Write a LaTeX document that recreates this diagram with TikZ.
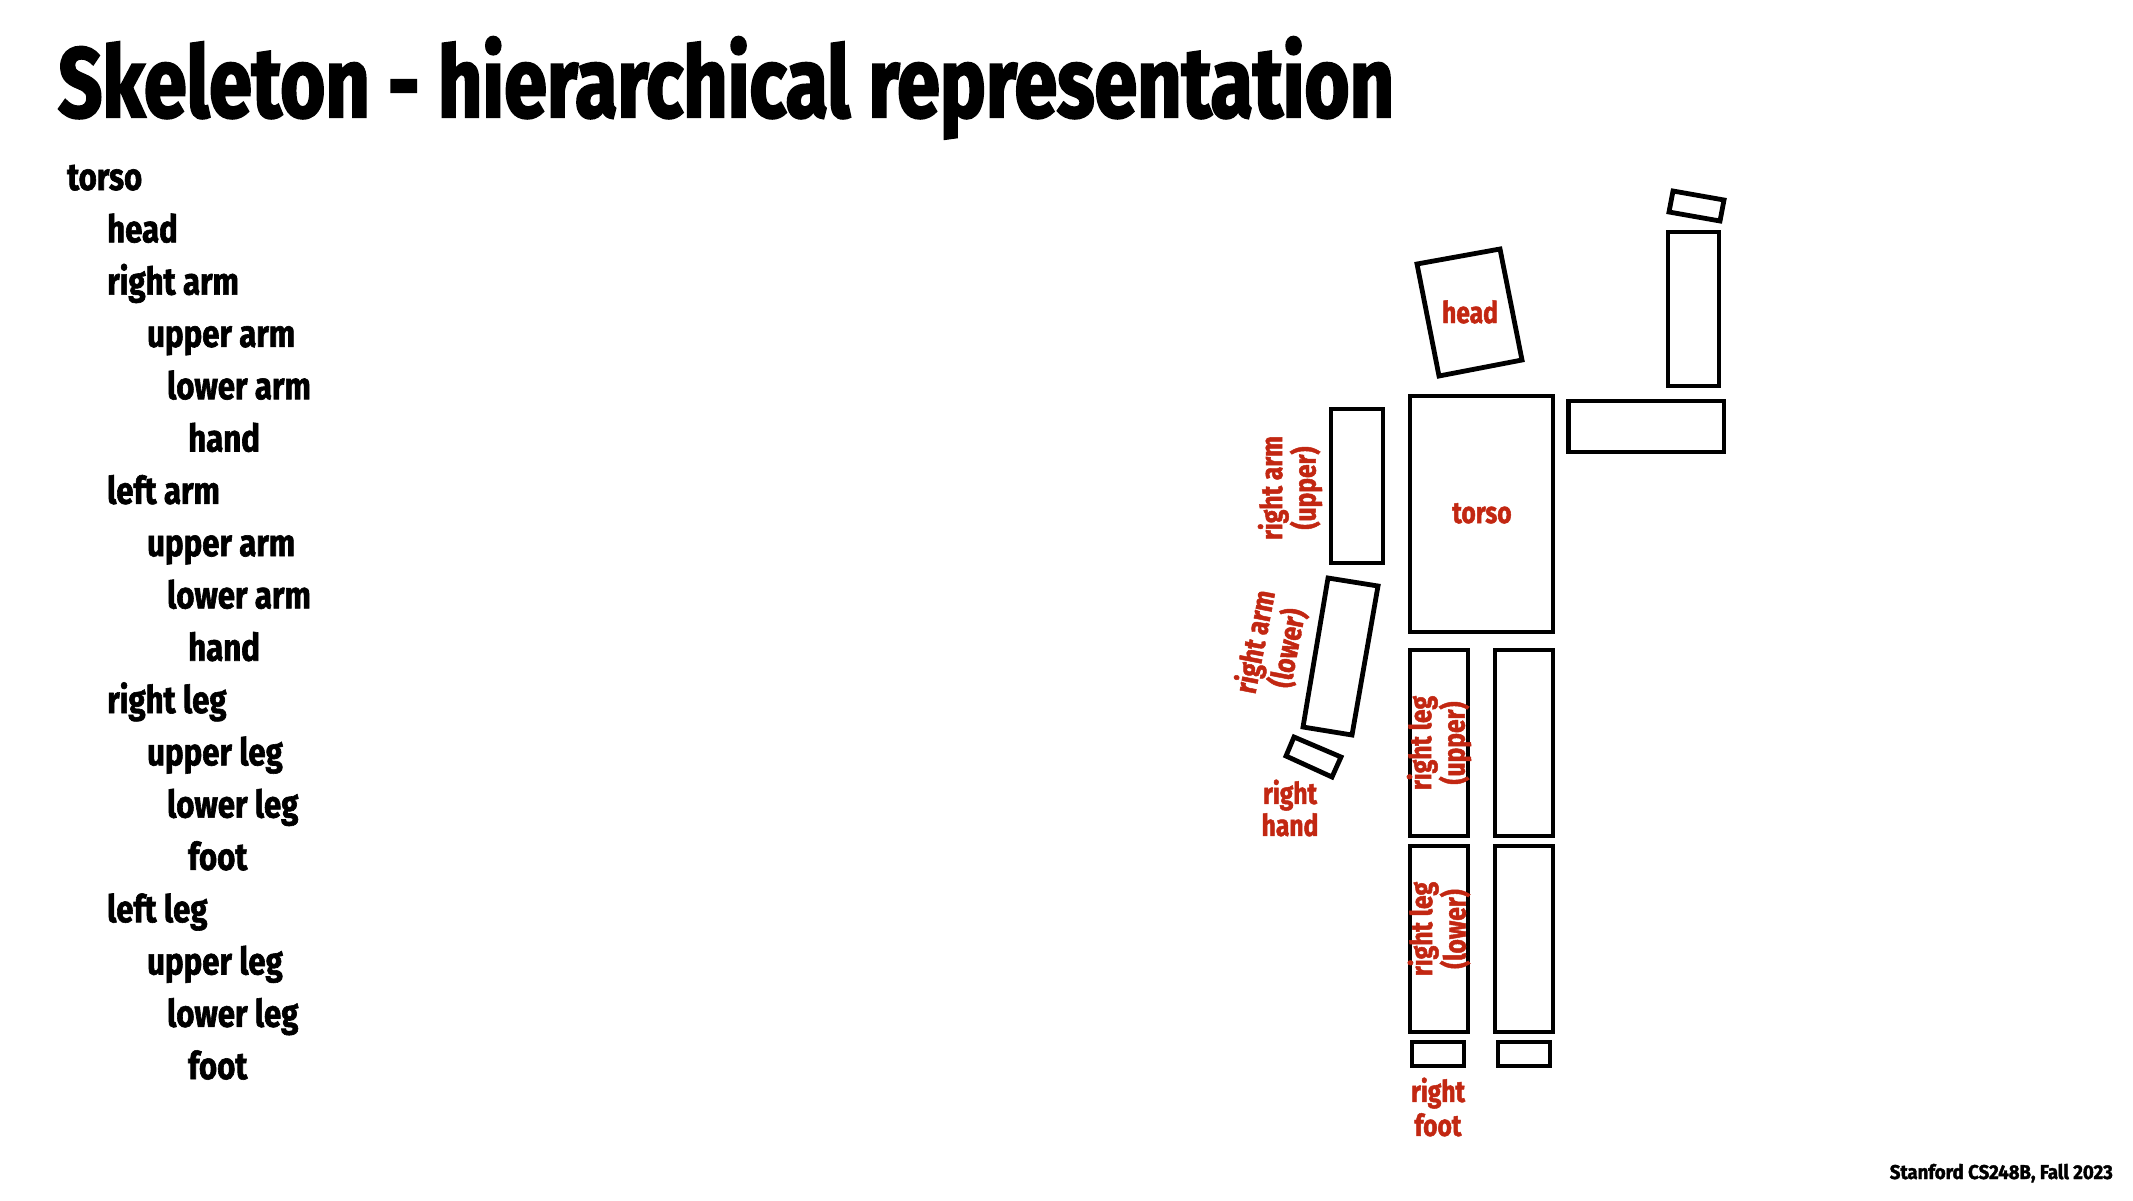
\documentclass[tikz,border=0pt]{standalone}
\usepackage{fontspec}
\setmainfont{Fira Sans}
\newfontfamily\cf[FakeStretch=0.82,FakeBold=1.6]{Fira Sans}
\newfontfamily\cft[FakeStretch=0.8,FakeBold=2.2]{Fira Sans}
\definecolor{lblred}{RGB}{194,39,18}
\newsavebox\fitbox
\newcommand\fitto[2]{\sbox\fitbox{#2}\pgfmathsetmacro\fitsx{#1/\wd\fitbox}\scalebox{\fitsx}[1]{\usebox\fitbox}}
\tikzset{
  part/.style={draw=black, line width=4.8pt, line join=miter},
  item/.style={anchor=base west, inner sep=0pt, font=\cf\bfseries\fontsize{38}{40}\selectfont},
  lbl/.style={inner sep=0pt, text=lblred, align=center, font=\cf\bfseries\fontsize{30}{29}\selectfont},
}
\begin{document}
\begin{tikzpicture}[x=1pt,y=-1pt]
\fill[white] (0,0) rectangle (2133,1200);
\useasboundingbox (0,0) rectangle (2133,1200);
% title
\node[anchor=base west, inner sep=0pt] (title) at (58,117)
  {\fitto{1336}{\cft\bfseries\fontsize{99}{110}\selectfont Skeleton - hierarchical representation}};
% hierarchy list
\node[item] (l1) at (67,190) {torso};
\node[item] (l2) at (107,242.3) {head};
\node[item] (l3) at (107,294.6) {right arm};
\node[item] (l4) at (147,346.9) {upper arm};
\node[item] (l5) at (167,399.2) {lower arm};
\node[item] (l6) at (188,451.5) {hand};
\node[item] (l7) at (107,503.8) {left arm};
\node[item] (l8) at (147,556.1) {upper arm};
\node[item] (l9) at (167,608.4) {lower arm};
\node[item] (l10) at (188,660.7) {hand};
\node[item] (l11) at (107,713.0) {right leg};
\node[item] (l12) at (147,765.3) {upper leg};
\node[item] (l13) at (167,817.6) {lower leg};
\node[item] (l14) at (188,869.9) {foot};
\node[item] (l15) at (107,922.2) {left leg};
\node[item] (l16) at (147,974.5) {upper leg};
\node[item] (l17) at (167,1026.8) {lower leg};
\node[item] (l18) at (188,1079.1) {foot};
% body parts
\draw[part] (1410,396) rectangle (1553,632);
\draw[part] (1417,264) -- (1500,249) -- (1522,360) -- (1439,376) -- cycle;
\draw[part] (1331,409) rectangle (1383,563);
\draw[part] (1328,578) -- (1378,586) -- (1352,735) -- (1303,727) -- cycle;
\draw[part] (1294,737) -- (1341,757) -- (1332,777) -- (1286,756) -- cycle;
\draw[part] (1568.5,401) rectangle (1724,452);
\draw[part] (1668,232) rectangle (1719,386);
\draw[part] (1673,191) -- (1724,200) -- (1720,221) -- (1669,212) -- cycle;
\draw[part] (1410,650) rectangle (1468,836);
\draw[part] (1495,650) rectangle (1553,836);
\draw[part] (1410,846) rectangle (1468,1032);
\draw[part] (1495,846) rectangle (1553,1032);
\draw[part] (1412,1042) rectangle (1464,1066);
\draw[part] (1498,1042) rectangle (1550,1066);
% labels
\node[lbl, anchor=base] (lhead) at (1470,323) {head};
\node[lbl, anchor=base] (ltorso) at (1482,523) {torso};
\node[lbl, rotate=90] (lrau) at (1290,488) {right arm\\(upper)};
\node[lbl, rotate=79] (lral) at (1272,645) {right arm\\(lower)};
\node[lbl, rotate=90] (lrlu) at (1439,743) {right leg\\(upper)};
\node[lbl, rotate=90] (lrll) at (1439,929) {right leg\\(lower)};
\node[lbl, font=\cf\bfseries\fontsize{30}{32}\selectfont] (lrh) at (1290,808) {right\\hand};
\node[lbl, font=\cf\bfseries\fontsize{30}{34}\selectfont] (lrf) at (1438,1107) {right\\foot};
% footer
\node[anchor=base east, inner sep=0pt] (foot) at (2113,1179)
  {\fitto{223}{\cf\bfseries\fontsize{20}{22}\selectfont Stanford CS248B, Fall 2023}};
\end{tikzpicture}
\end{document}
